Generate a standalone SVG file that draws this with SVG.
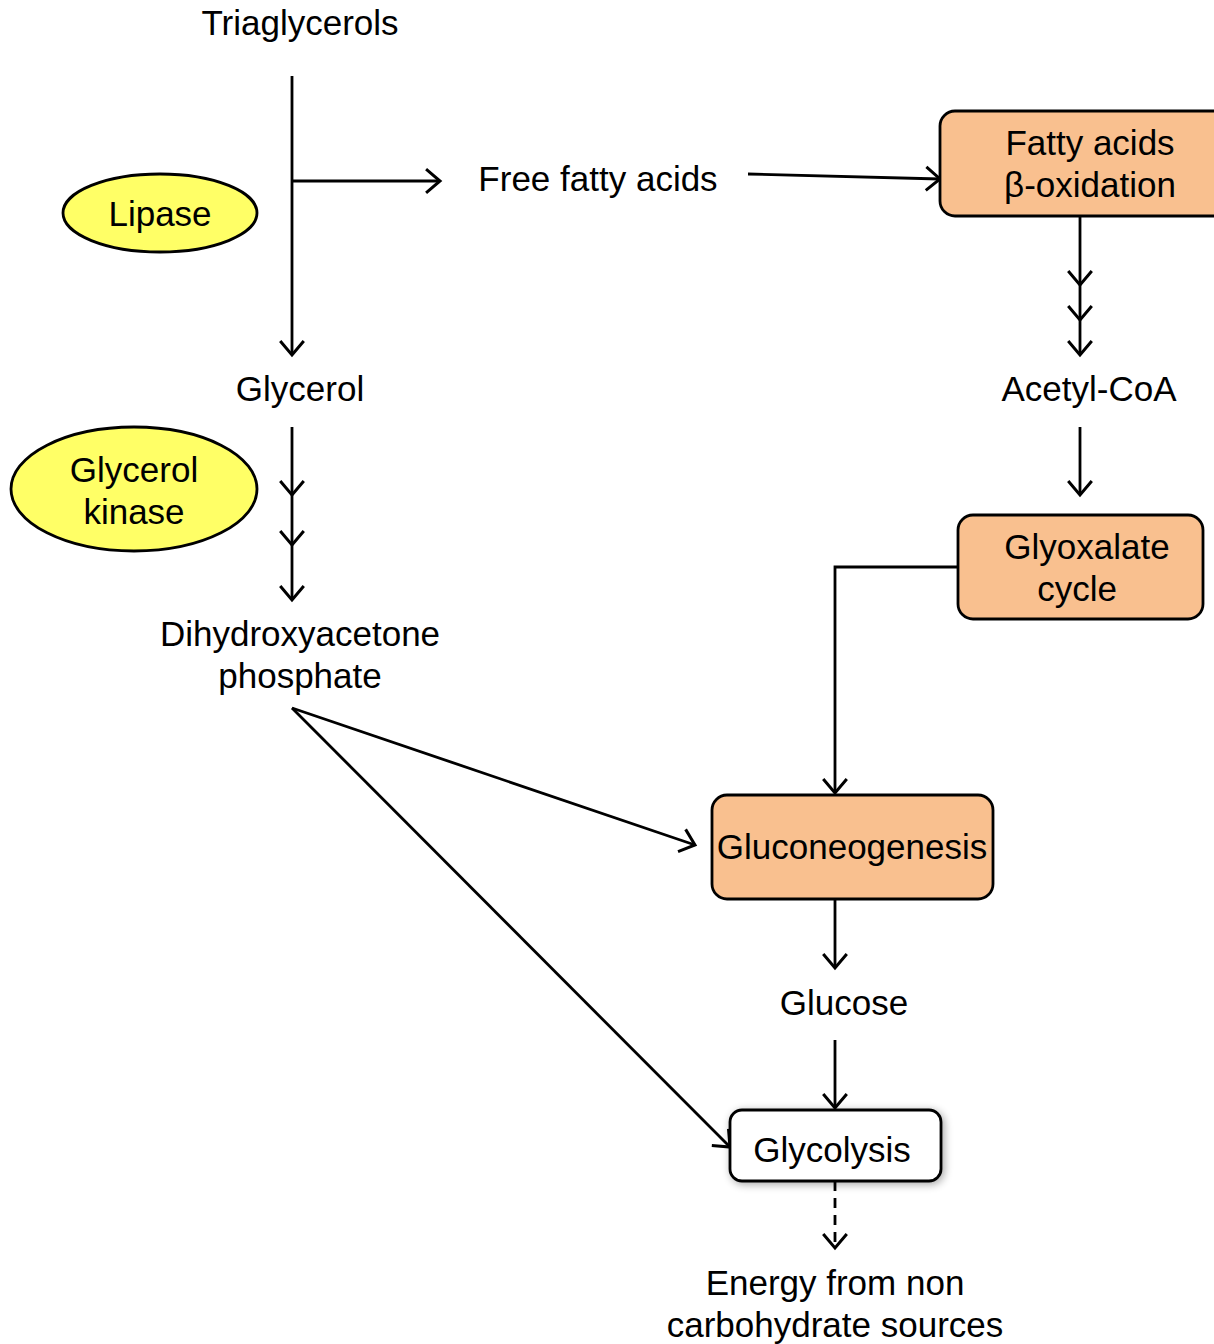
<svg xmlns="http://www.w3.org/2000/svg" width="1214" height="1344" viewBox="0 0 1214 1344">
<style>
text{font-family:"Liberation Sans",Arial,sans-serif;font-size:35px;fill:#000;text-anchor:middle}
.ln{fill:none;stroke:#000;stroke-width:2.8}
.box{fill:#f9c08f;stroke:#000;stroke-width:2.8}
.enz{fill:#ffff66;stroke:#000;stroke-width:2.8}
</style>
<defs>
<marker id="ah" markerUnits="userSpaceOnUse" markerWidth="30" markerHeight="30" refX="0" refY="0" viewBox="-16 -14 20 28" orient="auto" overflow="visible">
<path d="M-13,-11 L0,0 L-13,11" fill="none" stroke="#000" stroke-width="2.8"/>
</marker>
<filter id="sh" x="-20%" y="-30%" width="140%" height="160%">
<feGaussianBlur in="SourceAlpha" stdDeviation="4"/>
<feOffset dx="2" dy="2"/>
<feComponentTransfer><feFuncA type="linear" slope="0.35"/></feComponentTransfer>
<feMerge><feMergeNode/><feMergeNode in="SourceGraphic"/></feMerge>
</filter>
</defs>
<g id="connectors">
<polyline class="ln" points="292,76 292,355" marker-end="url(#ah)"/>
<polyline class="ln" points="292,181 440,181" marker-end="url(#ah)"/>
<polyline class="ln" points="748,174 940,179" marker-end="url(#ah)"/>
<polyline class="ln" points="1080,216 1080,285 1080,320 1080,355" marker-mid="url(#ah)" marker-end="url(#ah)"/>
<polyline class="ln" points="1080,427 1080,495" marker-end="url(#ah)"/>
<polyline class="ln" points="292,427 292,495 292,545 292,600" marker-mid="url(#ah)" marker-end="url(#ah)"/>
<polyline class="ln" points="958,567 835,567 835,793" marker-end="url(#ah)" stroke-width="2"/>
<polyline class="ln" points="292,708 695,845" marker-end="url(#ah)"/>
<polyline class="ln" points="292,708 730,1147" marker-end="url(#ah)"/>
<polyline class="ln" points="835,899 835,968" marker-end="url(#ah)"/>
<polyline class="ln" points="835,1040 835,1108" marker-end="url(#ah)"/>
<polyline class="ln" points="835,1181 835,1248" marker-end="url(#ah)" stroke-dasharray="10,7"/>
</g>
<g id="triaglycerols"><text x="300" y="35">Triaglycerols</text></g>
<g id="lipase"><ellipse class="enz" cx="160" cy="213" rx="97" ry="39"/><text x="160" y="226">Lipase</text></g>
<g id="free-fatty-acids"><text x="598" y="191">Free fatty acids</text></g>
<g id="fatty-acids-oxidation"><rect class="box" x="940" y="111" width="290" height="105" rx="15"/><text x="1090" y="155">Fatty acids</text><text x="1090" y="197">β-oxidation</text></g>
<g id="glycerol"><text x="300" y="401">Glycerol</text></g>
<g id="acetyl-coa"><text x="1089" y="401">Acetyl-CoA</text></g>
<g id="glycerol-kinase"><ellipse class="enz" cx="134" cy="489" rx="123" ry="62"/><text x="134" y="482">Glycerol</text><text x="134" y="524">kinase</text></g>
<g id="glyoxalate-cycle"><rect class="box" x="958" y="515" width="245" height="104" rx="15"/><text x="1087" y="559">Glyoxalate</text><text x="1077" y="601">cycle</text></g>
<g id="dhap"><text x="300" y="646">Dihydroxyacetone</text><text x="300" y="688">phosphate</text></g>
<g id="gluconeogenesis"><rect class="box" x="712" y="795" width="281" height="104" rx="15"/><text x="852" y="859">Gluconeogenesis</text></g>
<g id="glucose"><text x="844" y="1015">Glucose</text></g>
<g id="glycolysis"><rect x="730" y="1110" width="211" height="71" rx="12" fill="#fff" stroke="#000" stroke-width="2.8" filter="url(#sh)"/><text x="832" y="1162">Glycolysis</text></g>
<g id="energy"><text x="835" y="1295">Energy from non</text><text x="835" y="1337">carbohydrate sources</text></g>
</svg>
